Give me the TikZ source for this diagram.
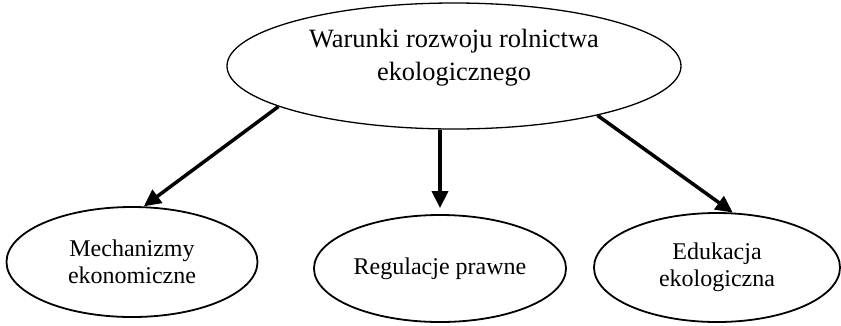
\documentclass[tikz,border=0pt]{standalone}
\usepackage{fontspec}
\setmainfont{Liberation Serif}
\usetikzlibrary{shapes.geometric,arrows.meta}
\begin{document}
\begin{tikzpicture}[x=1pt,y=-1pt,
  oval/.style={ellipse, draw, line width=1.8pt, inner sep=0pt, align=center, font=\fontsize{24}{27}\selectfont},
  arr/.style={line width=3.5pt, -{Triangle[length=17pt,width=16pt]}}]
\useasboundingbox (0,0) rectangle (841,325);
\node[ellipse, draw, line width=1.3pt, minimum width=454pt, minimum height=126pt, inner sep=0pt] (top) at (454,66) {};
\node[align=center, font=\fontsize{26.4}{33}\selectfont, inner sep=0pt] (toptext) at (454,58) {Warunki rozwoju rolnictwa\\ekologicznego};
\node[oval, minimum width=251pt, minimum height=110pt] (left) at (132,262) {Mechanizmy\\ekonomiczne};
\node[oval, minimum width=252pt, minimum height=107pt] (mid) at (440,268.5) {Regulacje prawne};
\node[oval, minimum width=246pt, minimum height=109pt] (right) at (717,267.5) {Edukacja\\ekologiczna};
\draw[arr] (top.193.6) -- (left.78.7);
\draw[arr, shorten >=6pt] (top.south -| mid.north) -- (mid.north);
\draw[arr] (top.341.1) -- (right.74.6);
\end{tikzpicture}
\end{document}
